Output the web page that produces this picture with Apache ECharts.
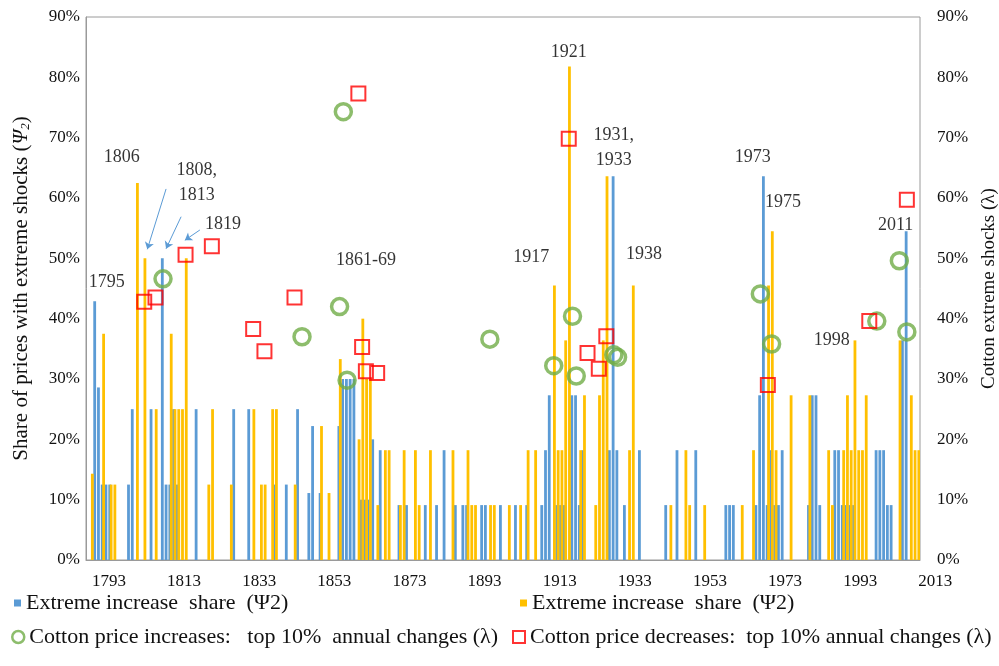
<!DOCTYPE html>
<html>
<head>
<meta charset="utf-8">
<script src="https://cdn.jsdelivr.net/npm/echarts@6/dist/echarts.min.js"></script>
<style>
  html, body { margin: 0; padding: 0; background: #fff; }
  #chart { width: 999px; height: 666px; }
</style>
</head>
<body>
<div id="chart"></div>
<script>
// categories: one per year
const years = [];
for (let y = 1793; y <= 2014; y++) years.push(String(y));

const yTicks = [0, 10, 20, 30, 40, 50, 60, 70, 80, 90];

// blue bars: extreme increase share (Ψ2), % of prices
const blueYears = [1795, 1796, 1797, 1798, 1799, 1804, 1805, 1810, 1813, 1814, 1815, 1816, 1817,
  1822, 1832, 1836, 1843, 1846, 1849, 1852, 1853, 1855, 1860, 1861, 1862, 1863, 1864,
  1866, 1867, 1868, 1869, 1871, 1876, 1878, 1883, 1886, 1888, 1891, 1893, 1894, 1898, 1899,
  1903, 1907, 1910, 1914, 1915, 1916, 1918, 1919, 1920, 1922, 1923, 1924, 1925,
  1932, 1933, 1934, 1936, 1940, 1947, 1950, 1955, 1963, 1964, 1965,
  1971, 1972, 1973, 1974, 1975, 1976, 1977, 1978, 1985, 1986, 1987, 1988,
  1992, 1993, 1994, 1995, 1996, 1997, 2003, 2004, 2005, 2006, 2007, 2010, 2011];
const blueVals = [42.9, 28.6, 12.5, 12.5, 12.5, 12.5, 25, 25, 50, 12.5, 12.5, 25, 12.5,
  25, 25, 25, 12.5, 12.5, 25, 11.1, 22.2, 11.1, 22.2, 30, 30, 30, 30,
  10, 10, 10, 20, 18.2, 9.1, 9.1, 9.1, 9.1, 18.2, 9.1, 9.1, 9.1, 9.1, 9.1,
  9.1, 9.1, 9.1, 9.1, 18.2, 27.3, 9.1, 9.1, 9.1, 27.3, 27.3, 9.1, 18.2,
  18.2, 63.6, 18.2, 9.1, 18.2, 9.1, 18.2, 18.2, 9.1, 9.1, 9.1,
  9.1, 27.3, 63.6, 9.1, 18.2, 9.1, 9.1, 18.2, 9.1, 27.3, 27.3, 9.1,
  18.2, 18.2, 9.1, 9.1, 9.1, 9.1, 18.2, 18.2, 18.2, 9.1, 9.1, 36.4, 54.5];

// orange bars
const orangeYears = [1794, 1797, 1799, 1800, 1806, 1808, 1811, 1815, 1816, 1817, 1818, 1819,
  1825, 1826, 1831, 1837, 1839, 1840, 1842, 1843, 1848, 1855, 1857, 1860,
  1865, 1866, 1867, 1868, 1870, 1872, 1873, 1876, 1877, 1880, 1881, 1884, 1890,
  1894, 1895, 1896, 1900, 1901, 1905, 1908, 1910, 1912, 1917, 1918, 1919, 1920, 1921,
  1924, 1925, 1928, 1929, 1930, 1931, 1937, 1938, 1948, 1952, 1953, 1957, 1967, 1970,
  1974, 1975, 1976, 1980, 1985, 1990, 1991, 1994, 1995, 1996, 1997, 1998, 1999, 2000,
  2009, 2012, 2013, 2014];
const orangeVals = [14.3, 37.5, 12.5, 12.5, 62.5, 50, 25, 37.5, 25, 25, 25, 50,
  12.5, 25, 12.5, 25, 12.5, 12.5, 25, 25, 12.5, 22.2, 11.1, 33.3,
  20, 40, 30, 30, 9.1, 18.2, 18.2, 9.1, 18.2, 18.2, 9.1, 18.2, 18.2,
  18.2, 9.1, 9.1, 9.1, 9.1, 9.1, 9.1, 18.2, 18.2, 45.5, 18.2, 18.2, 36.4, 81.8,
  18.2, 27.3, 9.1, 27.3, 36.4, 63.6, 18.2, 45.5, 9.1, 18.2, 9.1, 9.1, 9.1, 18.2,
  45.5, 54.5, 18.2, 27.3, 27.3, 18.2, 9.1, 18.2, 27.3, 18.2, 36.4, 18.2, 18.2, 27.3,
  36.4, 27.3, 18.2, 18.2];

// cotton price increases (green circles), right axis
const incYears = [1813, 1850, 1860, 1861, 1862, 1900, 1917, 1922, 1923, 1933, 1934, 1972, 1975, 2003, 2009, 2011];
const incVals = [46.6, 37.0, 42.0, 74.3, 29.8, 36.6, 32.2, 40.4, 30.5, 34.0, 33.6, 44.1, 35.8, 39.6, 49.6, 37.8];

// cotton price decreases (red squares), right axis
const decYears = [1808, 1811, 1819, 1826, 1837, 1840, 1848, 1865, 1866, 1867, 1870, 1921, 1926, 1929, 1931, 1974, 2001, 2011];
const decVals = [42.8, 43.5, 50.6, 52.0, 38.3, 34.6, 43.5, 77.3, 35.3, 31.3, 31.0, 69.8, 34.3, 31.7, 37.1, 29.0, 39.6, 59.7];

// year notes written over the plot
const noteText = ['1795', '1806', '1808,\n1813', '1819', '1861-69', '1917', '1921', '1931,\n1933', '1938', '1973', '1975', '1998', '2011'];
const noteYears = [1798, 1802, 1822, 1829, 1867, 1911, 1921, 1933, 1941, 1970, 1978, 1991, 2008];
const noteVals = [46.1, 66.8, 62.5, 55.7, 49.7, 50.1, 84.2, 68.3, 50.6, 66.8, 59.3, 36.5, 55.5];

// arrows: from [year, value] to [year, value]
const arrows = [
  [1814, 61.5, 1809, 51.5],
  [1818, 56.9, 1814, 51.6],
  [1823, 54.7, 1819, 53.0]
];

function toSeries(ys, vs) {
  const out = years.map(() => null);
  ys.forEach((y, i) => { out[y - 1793] = vs[i]; });
  return out;
}
function toPairs(ys, vs) {
  return ys.map((y, i) => [String(y), vs[i]]);
}

const serif = 'Liberation Serif';
const blueName = 'Extreme increase  share  (Ψ2)';
const orangeName = 'Extreme increase  share  (Ψ2)\u200b';
const incName = 'Cotton price increases:   top 10%  annual changes (λ)';
const decName = 'Cotton price decreases:  top 10% annual changes (λ)';

const chart = echarts.init(document.getElementById('chart'));

const legendText = { fontFamily: serif, fontSize: 22, color: '#111' };

chart.setOption({
  animation: false,
  backgroundColor: '#fff',
  grid: {
    left: 86, right: 79, top: 17, bottom: 106,
    outerBoundsMode: 'none',
    show: true, borderColor: '#9a9a9a', borderWidth: 1
  },
  legend: [
    { left: 14, top: 592, padding: 0, itemWidth: 7, itemHeight: 7, textStyle: legendText, selectedMode: false,
      data: [{ name: blueName, icon: 'rect' }] },
    { left: 520, top: 592, padding: 0, itemWidth: 7, itemHeight: 7, textStyle: legendText, selectedMode: false,
      data: [{ name: orangeName, icon: 'rect' }] },
    { left: 11, top: 626, padding: 0, itemWidth: 12, itemHeight: 12, textStyle: legendText, selectedMode: false,
      data: [{ name: incName, icon: 'circle', itemStyle: { color: '#fff', borderColor: '#70AD47', borderWidth: 2.5 } }] },
    { left: 512, top: 626, padding: 0, itemWidth: 12, itemHeight: 12, textStyle: legendText, selectedMode: false,
      data: [{ name: decName, icon: 'rect', itemStyle: { color: '#fff', borderColor: '#FF0000', borderWidth: 2 } }] }
  ],
  xAxis: {
    type: 'category',
    data: years,
    axisLine: { lineStyle: { color: '#9a9a9a' } },
    axisTick: { show: false },
    axisLabel: {
      interval: 19,
      fontFamily: serif, fontSize: 17, color: '#111', margin: 13,
      padding: [0, 0, 0, 42]
    }
  },
  yAxis: [
    {
      type: 'value', min: yTicks[0], max: yTicks[yTicks.length - 1], interval: 10,
      splitLine: { show: false },
      axisLine: { show: true, lineStyle: { color: '#9a9a9a' } },
      axisLabel: { formatter: '{value}%', fontFamily: serif, fontSize: 17, color: '#111', margin: 6 },
      name: '{a|Share of prices with extreme shocks (}{i|Ψ}{s|2}{a|)}',
      nameLocation: 'middle', nameRotate: 90, nameGap: 54,
      nameTextStyle: {
        rich: {
          a: { fontFamily: serif, fontSize: 21, color: '#111' },
          i: { fontFamily: serif, fontSize: 21, fontStyle: 'italic', color: '#111' },
          s: { fontFamily: serif, fontSize: 13, fontStyle: 'italic', color: '#111', verticalAlign: 'bottom', padding: [9, 0, 0, 0] }
        }
      }
    },
    {
      type: 'value', min: yTicks[0], max: yTicks[yTicks.length - 1], interval: 10,
      position: 'right',
      splitLine: { show: false },
      axisLine: { show: false },
      axisLabel: { formatter: '{value}%', fontFamily: serif, fontSize: 17, color: '#111', margin: 17 },
      name: 'Cotton extreme shocks (λ)',
      nameLocation: 'middle', nameRotate: 90, nameGap: 59,
      nameTextStyle: { fontFamily: serif, fontSize: 19, color: '#111' }
    }
  ],
  series: [
    {
      name: blueName, type: 'bar', data: toSeries(blueYears, blueVals),
      itemStyle: { color: '#5B9BD5' }, barWidth: 2.8, barGap: '-50%',
      markLine: {
        silent: true, symbol: ['none', 'arrow'], symbolSize: 7,
        lineStyle: { color: '#5B9BD5', width: 1, type: 'solid' },
        label: { show: false },
        data: arrows.map(a => [{ coord: [String(a[0]), a[1]] }, { coord: [String(a[2]), a[3]] }])
      }
    },
    {
      name: orangeName, type: 'bar', data: toSeries(orangeYears, orangeVals),
      itemStyle: { color: '#FFC000' }, barWidth: 2.8
    },
    {
      name: incName, type: 'scatter', yAxisIndex: 1, data: toPairs(incYears, incVals),
      symbol: 'circle', symbolSize: 16,
      itemStyle: { color: 'rgba(255,255,255,0)', borderColor: '#70AD47', borderWidth: 3.5 }
    },
    {
      name: decName, type: 'scatter', yAxisIndex: 1, data: toPairs(decYears, decVals),
      symbol: 'rect', symbolSize: 14,
      itemStyle: { color: 'rgba(255,255,255,0)', borderColor: '#FF0000', borderWidth: 2 }
    },
    {
      name: 'notes', type: 'scatter', silent: true, symbolSize: 1,
      itemStyle: { color: 'rgba(0,0,0,0)' },
      labelLayout: { hideOverlap: false },
      data: noteText.map((t, i) => ({ name: t, value: [String(noteYears[i]), noteVals[i]] })),
      label: {
        show: true, position: 'inside', formatter: '{b}',
        fontFamily: serif, fontSize: 18, color: '#000', lineHeight: 25,
        textBorderWidth: 0
      }
    }
  ]
});
</script>
</body>
</html>
